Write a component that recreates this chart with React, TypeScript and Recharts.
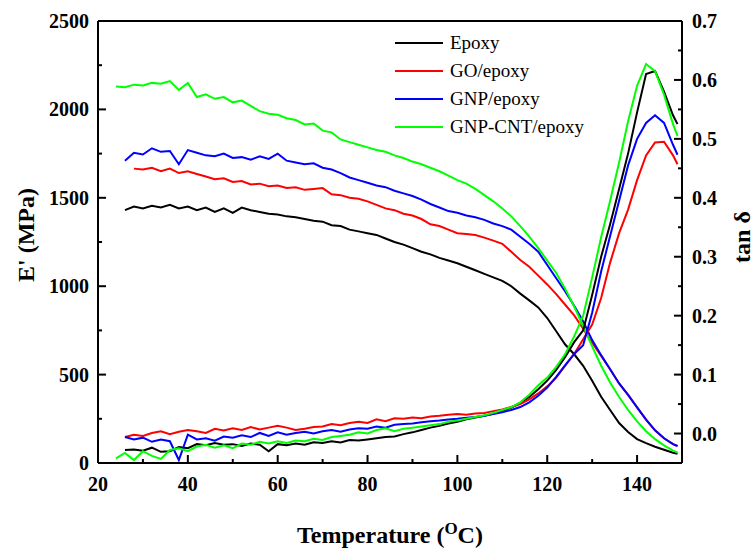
import React from "react";
import { LineChart, Line, XAxis, YAxis, Legend, ReferenceLine, Label } from "recharts";

const FONT = '"Liberation Serif", "Times New Roman", serif';

// temperature in °C
const temperature = [
  24, 26, 28, 30, 32, 34, 36, 38, 40, 42,
  44, 46, 48, 50, 52, 54, 56, 58, 60, 62,
  64, 66, 68, 70, 72, 74, 76, 78, 80, 82,
  84, 86, 88, 90, 92, 94, 96, 98, 100, 102,
  104, 106, 108, 110, 112, 114, 116, 118, 120, 122,
  124, 126, 128, 130, 132, 134, 136, 138, 140, 142,
  144, 146, 148, 149,
];

// storage modulus E' (MPa)
const epoxyModulus = [
  null, 1430, 1450, 1440, 1455, 1445, 1460, 1440, 1450, 1430,
  1445, 1420, 1440, 1415, 1445, 1430, 1420, 1410, 1405, 1395,
  1390, 1380, 1370, 1365, 1345, 1340, 1320, 1310, 1300, 1290,
  1270, 1250, 1235, 1215, 1195, 1180, 1160, 1145, 1130, 1110,
  1090, 1070, 1050, 1030, 1000, 958, 920, 880, 820, 745,
  670, 615, 550, 465, 375, 300, 226, 175, 135, 112,
  92, 75, 58, 52,
];
const goModulus = [
  null, null, 1665, 1660, 1670, 1650, 1665, 1640, 1650, 1635,
  1620, 1605, 1610, 1590, 1595, 1575, 1580, 1565, 1570, 1555,
  1560, 1545, 1550, 1555, 1520, 1515, 1500, 1495, 1480, 1460,
  1440, 1430, 1410, 1400, 1380, 1350, 1340, 1320, 1300, 1295,
  1290, 1275, 1258, 1240, 1195, 1148, 1110, 1060, 1010, 955,
  895, 835, 760, 680, 605, 530, 450, 385, 315, 245,
  185, 140, 107, 96,
];
const gnpModulus = [
  null, 1710, 1755, 1745, 1780, 1760, 1765, 1690, 1770, 1755,
  1740, 1735, 1750, 1725, 1730, 1715, 1735, 1720, 1750, 1710,
  1700, 1690, 1695, 1670, 1660, 1640, 1615, 1600, 1585, 1570,
  1560, 1540, 1525, 1510, 1490, 1465, 1445, 1425, 1415, 1400,
  1390, 1375, 1355, 1340, 1320, 1280, 1240, 1195, 1120, 1045,
  970, 890, 800, 695, 610, 530, 450, 385, 315, 245,
  185, 140, 107, 96,
];
const gnpCntModulus = [
  2130, 2125, 2140, 2135, 2150, 2145, 2160, 2110, 2150, 2070,
  2085, 2060, 2070, 2040, 2050, 2020, 1990, 1975, 1970, 1950,
  1940, 1915, 1920, 1880, 1870, 1830, 1815, 1800, 1785, 1770,
  1760, 1740, 1725, 1705, 1690, 1670, 1650, 1625, 1600, 1580,
  1550, 1515, 1480, 1440, 1395, 1340, 1280, 1215, 1145, 1075,
  985, 885, 775, 660, 550, 455, 373, 300, 235, 180,
  135, 100, 70, 60,
];

// loss factor tan δ
const epoxyTan = [
  null, -0.028, -0.027, -0.029, -0.024, -0.031, -0.03, -0.023, -0.025, -0.018,
  -0.02, -0.016, -0.019, -0.018, -0.021, -0.017, -0.019, -0.03, -0.018, -0.02,
  -0.017, -0.019, -0.015, -0.016, -0.013, -0.015, -0.011, -0.012, -0.01, -0.008,
  -0.006, -0.005, -0.001, 0.002, 0.006, 0.01, 0.013, 0.017, 0.02, 0.024,
  0.027, 0.03, 0.034, 0.038, 0.044, 0.052, 0.062, 0.075, 0.09, 0.108,
  0.13, 0.155, 0.175, 0.235, 0.3, 0.355, 0.415, 0.475, 0.545, 0.61,
  0.615, 0.58, 0.54, 0.525,
];
const goTan = [
  null, -0.006, -0.002, -0.004, 0.001, 0.004, -0.001, 0.003, 0.006, 0.004,
  0.001, 0.008, 0.005, 0.009, 0.006, 0.011, 0.007, 0.01, 0.013, 0.01,
  0.006, 0.008, 0.011, 0.012, 0.016, 0.014, 0.018, 0.02, 0.018, 0.024,
  0.021, 0.026, 0.025, 0.027, 0.026, 0.029, 0.03, 0.032, 0.033, 0.032,
  0.034, 0.035, 0.038, 0.041, 0.045, 0.05, 0.058, 0.068, 0.08, 0.095,
  0.115, 0.135, 0.16, 0.185, 0.23, 0.29, 0.34, 0.38, 0.43, 0.472,
  0.494, 0.495, 0.472, 0.457,
];
const gnpTan = [
  null, -0.006, -0.01, -0.007, -0.014, -0.01, -0.013, -0.045, -0.002, -0.01,
  -0.008, -0.012, -0.005, -0.007, -0.003, -0.006, 0.001, -0.004, 0.002, -0.002,
  0.001, 0.003, 0.0, 0.004, 0.006, 0.003, 0.007, 0.009, 0.008, 0.012,
  0.01, 0.015, 0.016, 0.017, 0.019, 0.021, 0.022, 0.024, 0.025, 0.027,
  0.028, 0.03, 0.033, 0.036, 0.04, 0.045, 0.053, 0.064, 0.078, 0.096,
  0.116, 0.135, 0.15, 0.205, 0.275, 0.335, 0.395, 0.455, 0.5, 0.527,
  0.54, 0.527, 0.49, 0.473,
];
const gnpCntTan = [
  -0.042, -0.033, -0.045, -0.03, -0.038, -0.043, -0.028, -0.025, -0.03, -0.022,
  -0.019, -0.024, -0.02, -0.025, -0.017, -0.019, -0.014, -0.017, -0.013, -0.016,
  -0.012, -0.013, -0.009, -0.011, -0.006, -0.004, -0.002, 0.002, 0.0, 0.006,
  0.009, 0.004, 0.008, 0.01, 0.012, 0.014, 0.016, 0.02, 0.022, 0.025,
  0.028, 0.031, 0.035, 0.04, 0.045, 0.053, 0.066, 0.082, 0.095, 0.113,
  0.135, 0.165, 0.2, 0.265, 0.333, 0.395, 0.46, 0.53, 0.59, 0.627,
  0.615, 0.575, 0.525, 0.505,
];

const tempTicks = [20, 30, 40, 50, 60, 70, 80, 90, 100, 110, 120, 130, 140];
const modulusTicks = [0, 250, 500, 750, 1000, 1250, 1500, 1750, 2000, 2250, 2500];
const tanTicks = [0, 0.05, 0.1, 0.15, 0.2, 0.25, 0.3, 0.35, 0.4, 0.45, 0.5, 0.55, 0.6, 0.65, 0.7];

const data = temperature.map((t, i) => ({
  t,
  epoxyE: epoxyModulus[i],
  goE: goModulus[i],
  gnpE: gnpModulus[i],
  gnpCntE: gnpCntModulus[i],
  epoxyTan: epoxyTan[i],
  goTan: goTan[i],
  gnpTan: gnpTan[i],
  gnpCntTan: gnpCntTan[i],
}));

const series = [
  { name: "Epoxy", color: "#000000", modulus: "epoxyE", tan: "epoxyTan" },
  { name: "GO/epoxy", color: "#ff0000", modulus: "goE", tan: "goTan" },
  { name: "GNP/epoxy", color: "#0000ff", modulus: "gnpE", tan: "gnpTan" },
  { name: "GNP-CNT/epoxy", color: "#00ff00", modulus: "gnpCntE", tan: "gnpCntTan" },
];

const tickText = { fontFamily: FONT, fontWeight: "bold" as const, fontSize: 20, fill: "#000" };

// ticks point inward, labels only on major ticks
const BottomTick = ({ x, y, payload }: any) => {
  const major = payload.value % 20 === 0;
  return (
    <g>
      <line x1={x} y1={y} x2={x} y2={y - (major ? 8 : 4)} stroke="#000" strokeWidth={2} />
      {major && (
        <text x={x} y={y + 28} textAnchor="middle" {...tickText}>
          {payload.value}
        </text>
      )}
    </g>
  );
};

const LeftTick = ({ x, y, payload }: any) => {
  const major = payload.value % 500 === 0;
  return (
    <g>
      <line x1={x} y1={y} x2={x + (major ? 8 : 4)} y2={y} stroke="#000" strokeWidth={2} />
      {major && (
        <text x={x - 9} y={y + 7} textAnchor="end" {...tickText}>
          {payload.value}
        </text>
      )}
    </g>
  );
};

const RightTick = ({ x, y, payload }: any) => {
  const major = Math.round(payload.value * 100) % 10 === 0;
  return (
    <g>
      <line x1={x} y1={y} x2={x - (major ? 8 : 4)} y2={y} stroke="#000" strokeWidth={2} />
      {major && (
        <text x={x + 10} y={y + 7} textAnchor="start" {...tickText}>
          {payload.value.toFixed(1)}
        </text>
      )}
    </g>
  );
};

const LegendBox = () => (
  <div style={{ fontFamily: FONT, fontSize: 19, color: "#000" }}>
    {series.map((s) => (
      <div key={s.name} style={{ display: "flex", alignItems: "center", height: 28 }}>
        <span style={{ display: "inline-block", width: 48, height: 2, background: s.color, marginRight: 7 }} />
        <span>{s.name}</span>
      </div>
    ))}
  </div>
);

const titleStyle = { fontFamily: FONT, fontWeight: "bold" as const, fontSize: 24, fill: "#000" };

export default function App() {
  return (
    <div style={{ position: "absolute", left: 0, top: 0, width: 756, height: 551, background: "#fff" }}>
      <LineChart width={756} height={551} data={data} margin={{ top: 21, right: 0, bottom: 0, left: 0 }}>
        <XAxis
          dataKey="t"
          type="number"
          domain={[20, 150]}
          ticks={tempTicks}
          interval={0}
          height={88}
          tickSize={0}
          tickMargin={0}
          tickLine={false}
          axisLine={{ stroke: "#000", strokeWidth: 2 }}
          tick={<BottomTick />}
        >
          <Label
            content={({ viewBox }: any) => (
              <text x={viewBox.x + viewBox.width / 2} y={543} textAnchor="middle" {...titleStyle}>
                Temperature (<tspan dy={-9} fontSize={17}>O</tspan>
                <tspan dy={9}>C)</tspan>
              </text>
            )}
          />
        </XAxis>
        <YAxis
          yAxisId="left"
          type="number"
          domain={[0, 2500]}
          ticks={modulusTicks}
          interval={0}
          width={98}
          tickSize={0}
          tickMargin={0}
          tickLine={false}
          axisLine={{ stroke: "#000", strokeWidth: 2 }}
          tick={<LeftTick />}
        >
          <Label
            content={() => (
              <text x={26} y={235} textAnchor="middle" dominantBaseline="central" transform="rotate(-90, 26, 235)" {...titleStyle}>
                E' (MPa)
              </text>
            )}
          />
        </YAxis>
        <YAxis
          yAxisId="right"
          orientation="right"
          type="number"
          domain={[-0.05, 0.7]}
          ticks={tanTicks}
          interval={0}
          width={74}
          tickSize={0}
          tickMargin={0}
          tickLine={false}
          axisLine={{ stroke: "#000", strokeWidth: 2 }}
          tick={<RightTick />}
        >
          <Label
            content={() => (
              <text x={742} y={237} textAnchor="middle" dominantBaseline="central" transform="rotate(-90, 742, 237)" {...titleStyle}>
                tan δ
              </text>
            )}
          />
        </YAxis>
        <ReferenceLine yAxisId="left" y={2500} stroke="#000" strokeWidth={2} />
        <Legend
          layout="vertical"
          align="center"
          verticalAlign="middle"
          wrapperStyle={{ left: 395, top: 29, width: 240 }}
          content={() => <LegendBox />}
        />
        {series.map((s) => (
          <Line
            key={s.modulus}
            yAxisId="left"
            dataKey={s.modulus}
            name={s.name}
            stroke={s.color}
            strokeWidth={2}
            dot={false}
            type="linear"
            isAnimationActive={false}
          />
        ))}
        {series.map((s) => (
          <Line
            key={s.tan}
            yAxisId="right"
            dataKey={s.tan}
            name={s.name + " tan"}
            stroke={s.color}
            strokeWidth={2}
            dot={false}
            type="linear"
            legendType="none"
            isAnimationActive={false}
          />
        ))}
      </LineChart>
    </div>
  );
}
